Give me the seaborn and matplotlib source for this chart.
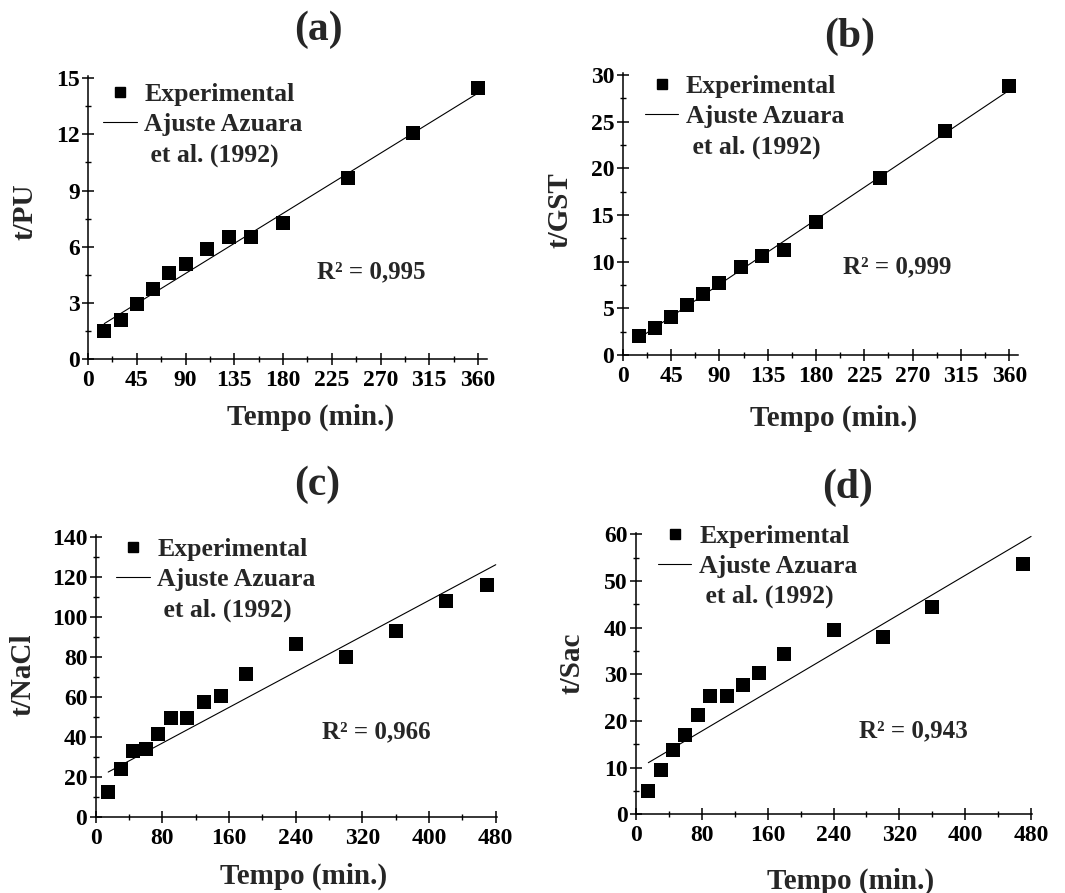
import numpy as np
import pandas as pd
import matplotlib
matplotlib.use("Agg")
import matplotlib.pyplot as plt
import seaborn as sns
from matplotlib.ticker import MultipleLocator
from matplotlib.lines import Line2D

# ---------------- data ----------------
panel_tags = ["(a)", "(b)", "(c)", "(d)"]
y_labels = ["t/PU", "t/GST", "t/NaCl", "t/Sac"]
x_label = "Tempo (min.)"
legend_labels = ["Experimental", "Ajuste Azuara", " et al. (1992)"]
r2_labels = ["R² = 0,995", "R² = 0,999", "R² = 0,966", "R² = 0,943"]

time_ab = [15, 30, 45, 60, 75, 90, 110, 130, 150, 180, 240, 300, 360]
time_c = [15, 30, 45, 60, 75, 90, 110, 130, 150, 180, 240, 300, 360, 420, 470]
time_d = [15, 30, 45, 60, 75, 90, 110, 130, 150, 180, 240, 300, 360, 470]

t_pu = [1.50, 2.10, 2.96, 3.75, 4.57, 5.10, 5.87, 6.53, 6.53, 7.28, 9.65, 12.09, 14.50]
t_gst = [2.04, 2.86, 4.04, 5.32, 6.54, 7.75, 9.39, 10.60, 11.25, 14.29, 19.00, 24.00, 28.80]
t_nacl = [12.5, 24.1, 33.2, 34.2, 41.4, 49.4, 49.4, 57.7, 60.7, 71.8, 86.5, 80.1, 93.0, 107.9, 115.9]
t_sac = [5.0, 9.6, 13.8, 17.1, 21.3, 25.3, 25.4, 27.7, 30.3, 34.3, 39.6, 38.0, 44.4, 53.7]

# Azuara et al. (1992) linear form: t/s = intercept + slope * t
fit_intercept = [1.355, 0.63, 19.26, 9.5]
fit_slope = [0.0357, 0.0771, 0.2227, 0.1043]

x_major = [45, 45, 80, 80]
x_tick_max = [360, 360, 480, 480]
y_major = [3, 5, 20, 10]
y_tick_max = [15, 30, 140, 60]

# ---------------- style ----------------
sns.set_style("ticks")
plt.rcParams["font.family"] = ["Liberation Serif", "DejaVu Serif"]
plt.rcParams["font.weight"] = "bold"
plt.rcParams["mathtext.default"] = "regular"

W, H = 1065, 893
fig = plt.figure(figsize=(W / 100, H / 100), dpi=100)
fig.patch.set_facecolor("white")

times = [time_ab, time_ab, time_c, time_d]
values = [t_pu, t_gst, t_nacl, t_sac]

# axes rectangles in pixels: left, right, bottom, top
rects_px = [(88, 487, 359, 76), (622.7, 1018.3, 355, 73.3),
            (95.7, 497, 817.3, 535), (636, 1032.3, 814.3, 533)]
xlim_max = [368.3, 368.4, 481.5, 481.5]
ylim_max = [15.12, 30.2, 141, 60.3]
title_pos = [(318, 30), (850, 37), (317, 485), (848, 488)]
xlabel_pos = [(311, 417), (834, 418), (304, 876), (851, 881)]
ylabel_pos = [(25, 212), (560, 210), (23, 675), (572, 663)]
legend_anchor = [(0.038, 0.975), (0.056, 0.995), (0.051, 0.99), (0.0556, 1.03)]
r2_pos = [(211, 4.64), (205, 9.43), (271.6, 42.6), (270.5, 17.8)]

for i in range(4):
    l, r, b, t = rects_px[i]
    ax = fig.add_axes([l / W, 1 - b / H, (r - l) / W, (b - t) / H])
    ax.set_facecolor("white")
    df = pd.DataFrame({"Tempo": times[i], "y": values[i]})
    sns.scatterplot(data=df, x="Tempo", y="y", marker="s", s=95, color="black",
                    linewidth=0, ax=ax, zorder=3)
    xf = np.array([times[i][0], x_tick_max[i]], dtype=float)
    fit_df = pd.DataFrame({"Tempo": xf, "y": fit_intercept[i] + fit_slope[i] * xf})
    sns.lineplot(data=fit_df, x="Tempo", y="y", color="black", linewidth=0.8, ax=ax,
                 zorder=2)

    ax.set_xlim(0, xlim_max[i])
    ax.set_ylim(0, ylim_max[i])
    ax.xaxis.set_minor_locator(MultipleLocator(x_major[i] / 2))
    ax.yaxis.set_minor_locator(MultipleLocator(y_major[i] / 2))
    ax.set_xticks([v for v in range(0, x_tick_max[i] + 1, x_major[i])])
    ax.set_yticks([v for v in range(0, y_tick_max[i] + 1, y_major[i])])
    ax.tick_params(which="major", direction="inout", length=8, width=1.1,
                   labelsize=17, pad=2, colors="black")
    ax.tick_params(axis="x", which="major", pad=4)
    ax.tick_params(which="minor", direction="inout", length=5, width=1.0, colors="black")
    for lab in ax.get_xticklabels() + ax.get_yticklabels():
        lab.set_fontweight("bold")
    for side in ["top", "right"]:
        ax.spines[side].set_visible(False)
    for side in ["left", "bottom"]:
        ax.spines[side].set_linewidth(1.1)
        ax.spines[side].set_color("black")

    # axis labels placed in figure pixels
    ax.set_xlabel(x_label, fontsize=21, fontweight="bold")
    ax.xaxis.set_label_coords((xlabel_pos[i][0] - l) / (r - l), (b - xlabel_pos[i][1]) / (b - t))
    ax.xaxis.label.set_va("center")
    ax.set_ylabel(y_labels[i], fontsize=21, fontweight="bold")
    ax.yaxis.set_label_coords((ylabel_pos[i][0] - l) / (r - l), (b - ylabel_pos[i][1]) / (b - t))
    ax.yaxis.label.set_va("center")

    handles = [Line2D([], [], marker="s", ls="none", color="black", markersize=7.5),
               Line2D([], [], color="black", lw=0.8),
               Line2D([], [], ls="none")]
    ax.legend(handles, legend_labels, loc="upper left", bbox_to_anchor=legend_anchor[i],
              frameon=False, borderpad=0, borderaxespad=0, handlelength=1.3,
              handletextpad=0.3, labelspacing=0.28,
              prop={"family": "Liberation Serif", "weight": "bold", "size": 18.5})

    ax.text(r2_pos[i][0], r2_pos[i][1], r2_labels[i], fontsize=18, fontweight="bold",
            ha="left", va="center")

    fig.text(title_pos[i][0] / W, 1 - title_pos[i][1] / H, panel_tags[i], fontsize=30,
             fontweight="bold", ha="center", va="center")

fig.savefig("out.png", dpi=100, facecolor="white")
